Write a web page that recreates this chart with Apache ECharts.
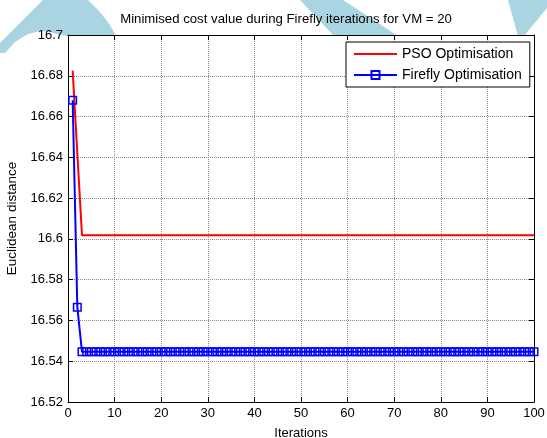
<!DOCTYPE html>
<html>
<head>
<meta charset="utf-8">
<script src="https://cdn.jsdelivr.net/npm/echarts@6/dist/echarts.min.js"></script>
<style>
html,body{margin:0;padding:0;background:#fff;}
#chart{width:547px;height:438px;}
</style>
</head>
<body>
<div id="chart"></div>
<script>
var iterations = [1,2,3,4,5,6,7,8,9,10,11,12,13,14,15,16,17,18,19,20,21,22,23,24,25,26,27,28,29,30,31,32,33,34,35,36,37,38,39,40,41,42,43,44,45,46,47,48,49,50,51,52,53,54,55,56,57,58,59,60,61,62,63,64,65,66,67,68,69,70,71,72,73,74,75,76,77,78,79,80,81,82,83,84,85,86,87,88,89,90,91,92,93,94,95,96,97,98,99,100];
var psoValues = [16.6825,16.642,16.6018,16.6018,16.6018,16.6018,16.6018,16.6018,16.6018,16.6018,
16.6018,16.6018,16.6018,16.6018,16.6018,16.6018,16.6018,16.6018,16.6018,16.6018,
16.6018,16.6018,16.6018,16.6018,16.6018,16.6018,16.6018,16.6018,16.6018,16.6018,
16.6018,16.6018,16.6018,16.6018,16.6018,16.6018,16.6018,16.6018,16.6018,16.6018,
16.6018,16.6018,16.6018,16.6018,16.6018,16.6018,16.6018,16.6018,16.6018,16.6018,
16.6018,16.6018,16.6018,16.6018,16.6018,16.6018,16.6018,16.6018,16.6018,16.6018,
16.6018,16.6018,16.6018,16.6018,16.6018,16.6018,16.6018,16.6018,16.6018,16.6018,
16.6018,16.6018,16.6018,16.6018,16.6018,16.6018,16.6018,16.6018,16.6018,16.6018,
16.6018,16.6018,16.6018,16.6018,16.6018,16.6018,16.6018,16.6018,16.6018,16.6018,
16.6018,16.6018,16.6018,16.6018,16.6018,16.6018,16.6018,16.6018,16.6018,16.6018];
var fireflyValues = [16.668,16.5665,16.5447,16.5447,16.5447,16.5447,16.5447,16.5447,16.5447,16.5447,
16.5447,16.5447,16.5447,16.5447,16.5447,16.5447,16.5447,16.5447,16.5447,16.5447,
16.5447,16.5447,16.5447,16.5447,16.5447,16.5447,16.5447,16.5447,16.5447,16.5447,
16.5447,16.5447,16.5447,16.5447,16.5447,16.5447,16.5447,16.5447,16.5447,16.5447,
16.5447,16.5447,16.5447,16.5447,16.5447,16.5447,16.5447,16.5447,16.5447,16.5447,
16.5447,16.5447,16.5447,16.5447,16.5447,16.5447,16.5447,16.5447,16.5447,16.5447,
16.5447,16.5447,16.5447,16.5447,16.5447,16.5447,16.5447,16.5447,16.5447,16.5447,
16.5447,16.5447,16.5447,16.5447,16.5447,16.5447,16.5447,16.5447,16.5447,16.5447,
16.5447,16.5447,16.5447,16.5447,16.5447,16.5447,16.5447,16.5447,16.5447,16.5447,
16.5447,16.5447,16.5447,16.5447,16.5447,16.5447,16.5447,16.5447,16.5447,16.5447];
var seriesNames = ['PSO Optimisation','Firefly Optimisation'];
var titleText = 'Minimised cost value during Firefly iterations for VM = 20';
var xName = 'Iterations';
var yName = 'Euclidean distance';

function pairs(xs, ys){ return xs.map(function(x,i){ return [x, ys[i]]; }); }

var FONT = '"Liberation Sans", Arial, Helvetica, sans-serif';
var wm = '#a8d5e1';
var chart = echarts.init(document.getElementById('chart'), null, {renderer:'canvas'});
var option = {
  backgroundColor: '#fff',
  animation: false,
  graphic: [
    {type:'polygon', z:-10, silent:true, shape:{points:[[43,0],[88,0],[100,12],[110,25],[116,36],[68,36],[60,35],[50,32],[40,31],[28,34],[15,42],[5,53],[0,53],[0,43]]}, style:{fill:wm}},
    {type:'polygon', z:-10, silent:true, shape:{points:[[300,0],[343,0],[398,36],[334,36]]}, style:{fill:wm}},
    {type:'polygon', z:-10, silent:true, shape:{points:[[508,0],[547,0],[547,8],[524,36],[518,36]]}, style:{fill:wm}}
  ],
  title: {
    text: titleText,
    left: 286,
    top: 13,
    padding: 0,
    textAlign: 'center',
    textStyle: {fontFamily: FONT, fontSize: 13.2, fontWeight: 'normal', color: '#000'}
  },
  grid: {left: 68, right: 13, top: 35, bottom: 36, show: true, backgroundColor: '#fff', borderWidth: 0,
    containLabel: false, outerBoundsMode: 'none'},
  legend: {
    orient: 'vertical',
    left: 346,
    top: 42,
    padding: [5, 8, 5, 7],
    itemWidth: 43,
    itemHeight: 10,
    itemGap: 7,
    borderColor: '#000',
    borderWidth: 1,
    backgroundColor: '#fff',
    textStyle: {fontFamily: FONT, fontSize: 14, color: '#000'},
    data: [
      {name: seriesNames[0], itemStyle: {opacity: 0}},
      {name: seriesNames[1]}
    ]
  },
  xAxis: [
    {
      type: 'value', min: 0, max: 100, interval: 10,
      name: xName, nameLocation: 'middle', nameGap: 25,
      nameTextStyle: {fontFamily: FONT, fontSize: 13, color: '#000'},
      axisLine: {show: true, onZero: false, lineStyle: {color: '#000', width: 1}},
      axisTick: {show: true, inside: true, length: 5, lineStyle: {color: '#000'}},
      axisLabel: {fontFamily: FONT, fontSize: 13, color: '#000', margin: 5},
      splitLine: {show: true, lineStyle: {color: '#888', type: 'dotted', width: 1}}
    },
    {
      type: 'value', min: 0, max: 100, interval: 10, position: 'top',
      axisLine: {show: true, onZero: false, lineStyle: {color: '#000', width: 1}},
      axisTick: {show: true, inside: true, length: 5, lineStyle: {color: '#000'}},
      axisLabel: {show: false},
      splitLine: {show: false}
    }
  ],
  yAxis: [
    {
      type: 'value', min: 16.52, max: 16.7, interval: 0.02,
      name: yName, nameLocation: 'middle', nameGap: 47,
      nameTextStyle: {fontFamily: FONT, fontSize: 13.5, color: '#000'},
      axisLine: {show: true, onZero: false, lineStyle: {color: '#000', width: 1}},
      axisTick: {show: true, inside: true, length: 5, lineStyle: {color: '#000'}},
      axisLabel: {fontFamily: FONT, fontSize: 13, color: '#000', margin: 5,
        formatter: function(v){ return String(parseFloat(v.toFixed(2))); }},
      splitLine: {show: true, lineStyle: {color: '#888', type: 'dotted', width: 1}}
    },
    {
      type: 'value', min: 16.52, max: 16.7, interval: 0.02, position: 'right',
      axisLine: {show: true, onZero: false, lineStyle: {color: '#000', width: 1}},
      axisTick: {show: true, inside: true, length: 5, lineStyle: {color: '#000'}},
      axisLabel: {show: false},
      splitLine: {show: false}
    }
  ],
  series: [
    {
      name: seriesNames[0], type: 'line', xAxisIndex: 0, yAxisIndex: 0,
      data: pairs(iterations, psoValues),
      symbol: 'none', showSymbol: false,
      lineStyle: {color: '#ff0000', width: 2},
      itemStyle: {color: '#ff0000'},
      z: 3
    },
    {
      name: seriesNames[1], type: 'line', xAxisIndex: 0, yAxisIndex: 0,
      data: pairs(iterations, fireflyValues),
      symbol: 'rect', symbolSize: 7.5, showSymbol: true, showAllSymbol: true,
      clip: false,
      lineStyle: {color: '#0000ff', width: 2},
      itemStyle: {color: 'rgba(0,0,0,0)', borderColor: '#0000ff', borderWidth: 1.5},
      z: 4
    }
  ]
};
chart.setOption(option);
</script>
</body>
</html>
